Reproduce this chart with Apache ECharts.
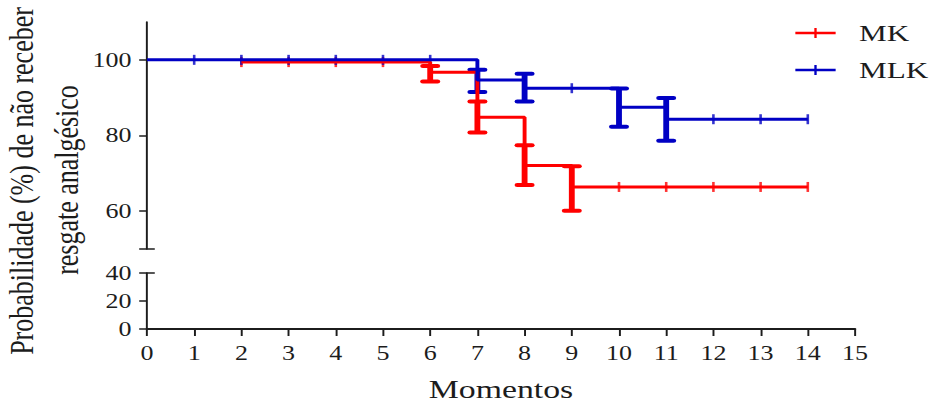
<!DOCTYPE html>
<html>
<head>
<meta charset="utf-8">
<script src="https://cdn.jsdelivr.net/npm/echarts@6/dist/echarts.min.js"></script>
<style>
html,body{margin:0;padding:0;background:#fff;overflow:hidden;}
#c{width:721px;height:403px;transform:scaleX(1.2996);transform-origin:0 0;}
</style>
</head>
<body>
<div id="c"></div>
<script>
// ---- data ----
const seriesNames = ['MK', 'MLK'];
const xTicks = [0,1,2,3,4,5,6,7,8,9,10,11,12,13,14,15];

const mkStepX = [2, 6, 7, 8, 9, 14];
const mkStepY = [99.4, 96.7, 84.8, 72.1, 66.4, 66.4];
const mkCensorX = [2, 3, 4, 5, 10, 11, 12, 13, 14];
const mkCensorY = [99.4, 99.4, 99.4, 99.4, 66.4, 66.4, 66.4, 66.4, 66.4];
const mkErrX = [6, 7, 8, 9];
const mkErrLow = [94.3, 80.8, 66.9, 60.1];
const mkErrHigh = [98.4, 89.0, 77.4, 71.9];

const mlkStepX = [0, 7, 8, 10, 11, 14];
const mlkStepY = [100, 94.7, 92.5, 87.5, 84.3, 84.3];
const mlkCensorX = [1, 2, 3, 4, 5, 6, 9, 12, 13, 14];
const mlkCensorY = [100, 100, 100, 100, 100, 100, 92.5, 84.3, 84.3, 84.3];
const mlkErrX = [7, 8, 10, 11];
const mlkErrLow = [91.5, 89.0, 82.3, 78.6];
const mlkErrHigh = [97.4, 96.3, 92.4, 89.9];

const topLabels = [60, 80, 100];
const topTicks = [50, 60, 80, 100];

// ---- build ----
const RED = '#ff0000', BLUE = '#0000c4', INK = '#1c1c1c';
const FONT = "'Liberation Serif','Times New Roman',serif";
const zip = (a, b) => a.map((v, i) => [v, b[i]]);
const zip3 = (a, b, c) => a.map((v, i) => [v, b[i], c[i]]);

function errRender(color) {
  return function (params, api) {
    const x = api.value(0), lo = api.value(1), hi = api.value(2);
    const pL = api.coord([x, lo]), pH = api.coord([x, hi]);
    const hw = 5.7;
    return {
      type: 'group',
      children: [
        { type: 'line', shape: { x1: pL[0], y1: pL[1], x2: pH[0], y2: pH[1] }, style: { stroke: color, lineWidth: 4.5 } },
        { type: 'line', shape: { x1: pL[0] - hw, y1: pL[1], x2: pL[0] + hw, y2: pL[1] }, style: { stroke: color, lineWidth: 4, lineCap: 'round' } },
        { type: 'line', shape: { x1: pH[0] - hw, y1: pH[1], x2: pH[0] + hw, y2: pH[1] }, style: { stroke: color, lineWidth: 4, lineCap: 'round' } }
      ]
    };
  };
}

function groupSeries(name, color, sx, sy, cx, cy, ex, el, eh) {
  return [
    { name: name, type: 'line', step: 'end', xAxisIndex: 0, yAxisIndex: 0, data: zip(sx, sy),
      showSymbol: false, symbol: 'none', color: color, lineStyle: { color: color, width: 3 }, silent: true, animation: false },
    { type: 'scatter', xAxisIndex: 0, yAxisIndex: 0, data: zip(cx, cy), symbol: 'rect', symbolSize: [2, 10],
      itemStyle: { color: color }, silent: true, animation: false },
    { type: 'custom', xAxisIndex: 0, yAxisIndex: 0, data: zip3(ex, el, eh), renderItem: errRender(color),
      silent: true, animation: false, clip: false }
  ];
}

const chart = echarts.init(document.getElementById('c'), null, { renderer: 'svg' });
const axisLine = { show: true, lineStyle: { color: INK, width: 1.5 } };
const labelStyle = { color: INK, fontFamily: FONT, fontSize: 20 };

chart.setOption({
  animation: false,
  backgroundColor: '#fff',
  grid: [
    { left: 113.1, right: 63.1, top: 22, height: 227 },
    { left: 113.1, right: 63.1, top: 273, height: 57 }
  ],
  xAxis: [
    { type: 'value', gridIndex: 0, min: 0, max: 15, show: false },
    { type: 'value', gridIndex: 1, min: 0, max: 15, interval: 1,
      axisLine: { show: true, onZero: false, lineStyle: { color: INK, width: 2 } },
      axisTick: { show: true, length: 7, lineStyle: { color: INK, width: 1.5 } },
      axisLabel: Object.assign({ margin: 14, customValues: xTicks }, labelStyle),
      splitLine: { show: false },
      name: 'Momentos', nameLocation: 'middle', nameGap: 47,
      nameTextStyle: { color: INK, fontFamily: FONT, fontSize: 26 } }
  ],
  yAxis: [
    { type: 'value', gridIndex: 0, position: 'left', min: 50, max: 110,
      axisLine: axisLine,
      axisTick: { show: true, length: 6, customValues: topTicks, lineStyle: { color: INK, width: 1.5 } },
      axisLabel: Object.assign({ margin: 12, customValues: topLabels }, labelStyle),
      splitLine: { show: false } },
    { type: 'value', gridIndex: 0, position: 'left', min: 50, max: 110,
      axisLine: { show: false },
      axisTick: { show: true, inside: true, length: 6, customValues: [50], lineStyle: { color: INK, width: 1.5 } },
      axisLabel: { show: false }, splitLine: { show: false } },
    { type: 'value', gridIndex: 1, position: 'left', min: 0, max: 40, interval: 20,
      axisLine: axisLine,
      axisTick: { show: true, length: 6, lineStyle: { color: INK, width: 1.5 } },
      axisLabel: Object.assign({ margin: 12 }, labelStyle),
      splitLine: { show: false } },
    { type: 'value', gridIndex: 1, position: 'left', min: 0, max: 40,
      axisLine: { show: false },
      axisTick: { show: true, inside: true, length: 6, customValues: [40], lineStyle: { color: INK, width: 1.5 } },
      axisLabel: { show: false }, splitLine: { show: false } }
  ],
  legend: {
    data: seriesNames, orient: 'vertical', left: 612, top: 20, padding: 0,
    itemWidth: 31, itemHeight: 10, itemGap: 11,
    icon: 'path://M0,3.8h31v2.4h-31z M14.6,0h1.8v10h-1.8z',
    textStyle: { color: INK, fontFamily: FONT, fontSize: 24, lineHeight: 26, padding: [0, 0, 0, 13] },
    selectedMode: false
  },
  graphic: [
    { type: 'text', x: 16.9, y: 181, rotation: Math.PI / 2,
      style: { text: 'Probabilidade (%) de não receber', fill: INK, font: "26px 'Liberation Serif'", textAlign: 'center', textVerticalAlign: 'middle' } },
    { type: 'text', x: 51.6, y: 180, rotation: Math.PI / 2,
      style: { text: 'resgate analgésico', fill: INK, font: "26px 'Liberation Serif'", textAlign: 'center', textVerticalAlign: 'middle' } }
  ],
  series: [].concat(
    groupSeries('MK', RED, mkStepX, mkStepY, mkCensorX, mkCensorY, mkErrX, mkErrLow, mkErrHigh),
    groupSeries('MLK', BLUE, mlkStepX, mlkStepY, mlkCensorX, mlkCensorY, mlkErrX, mlkErrLow, mlkErrHigh)
  )
});
</script>
</body>
</html>
